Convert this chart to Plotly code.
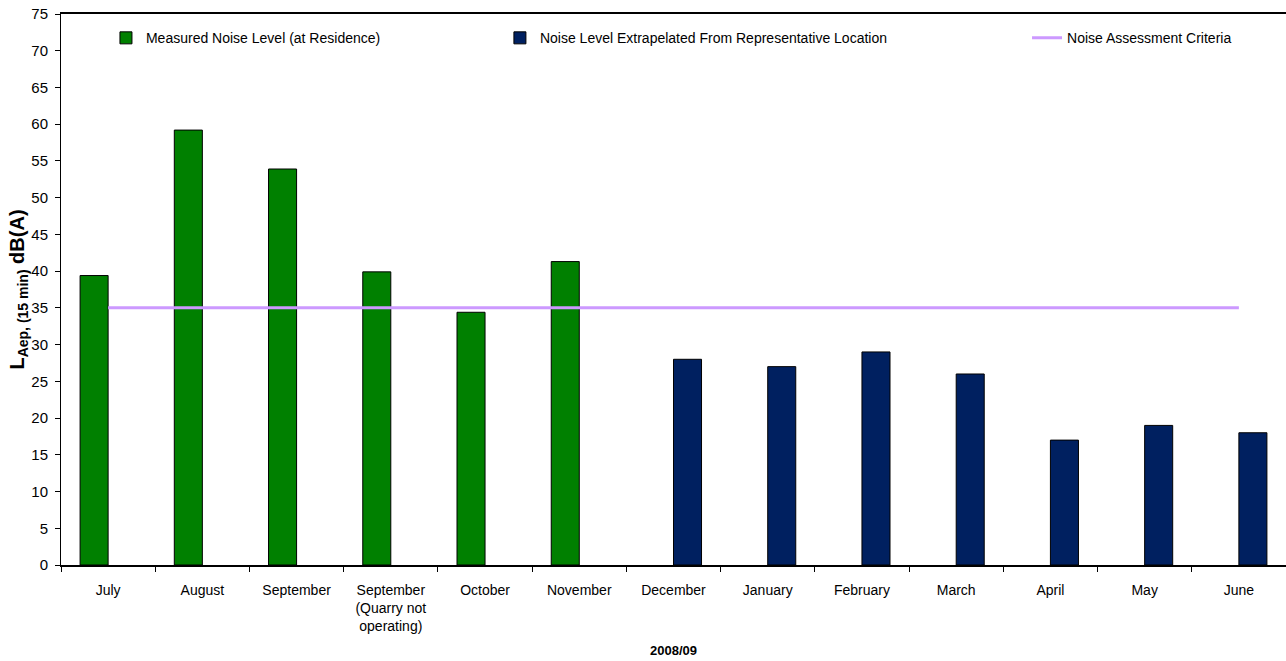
import plotly.graph_objects as go

# categories and values
months = ['July', 'August', 'September', 'September<br>(Quarry not<br>operating)',
          'October', 'November', 'December', 'January', 'February', 'March',
          'April', 'May', 'June']
measured = [39.4, 59.2, 53.9, 39.9, 34.4, 41.3, None, None, None, None, None, None, None]
extrapolated = [None, None, None, None, None, None, 28, 27, 29, 26, 17, 19, 18]
criteria = [35] * len(months)
y_ticks = [0, 5, 10, 15, 20, 25, 30, 35, 40, 45, 50, 55, 60, 65, 70, 75]

FONT = 'Liberation Sans, Arial, sans-serif'

fig = go.Figure()

fig.add_trace(go.Bar(
    x=months, y=measured,
    name='Measured Noise Level (at Residence)',
    marker=dict(color='#008000', line=dict(color='black', width=1)),
    showlegend=True,
    legend='legend'
))
fig.add_trace(go.Bar(
    x=months, y=extrapolated,
    name='Noise Level Extrapelated From Representative Location',
    marker=dict(color='#002060', line=dict(color='black', width=1)),
    showlegend=True,
    legend='legend2'
))
fig.add_trace(go.Scatter(
    x=months, y=criteria,
    mode='lines',
    name='Noise Assessment Criteria',
    line=dict(color='#CC99FF', width=3),
    showlegend=True,
    legend='legend3'
))

leg = dict(orientation='h', yanchor='middle', y=0.956, xanchor='left',
           bgcolor='rgba(0,0,0,0)', font=dict(size=14, family=FONT, color='black'))

fig.update_layout(
    width=1286, height=661,
    barmode='group',
    bargap=0.405,
    bargroupgap=0,
    showlegend=True,
    font=dict(family=FONT, size=14, color='black'),
    paper_bgcolor='white',
    plot_bgcolor='white',
    margin=dict(l=61, r=0, t=14, b=96),
    legend=dict(leg, x=0.0367),
    legend2=dict(leg, x=0.3583),
    legend3=dict(leg, x=0.7886),
    xaxis=dict(
        title=dict(text='<b>2008/09</b>', font=dict(size=13), standoff=13),
        tickson='boundaries',
        ticks='outside', ticklen=5, tickcolor='black',
        tickfont=dict(size=14),
        ticklabelstandoff=11,
        showline=True, linecolor='black', linewidth=2,
        mirror=True,
        showgrid=False, zeroline=False,
        automargin=False
    ),
    yaxis=dict(
        title=dict(text='<b>L<sub>Aep, (15 min)</sub> dB(A)</b>', font=dict(size=20), standoff=0),
        range=[0, 75],
        tickmode='array', tickvals=y_ticks,
        ticks='outside', ticklen=5, tickcolor='black',
        tickfont=dict(size=15),
        ticklabelstandoff=4,
        ticklabeloverflow='allow',
        showline=True, linecolor='black', linewidth=1,
        showgrid=False, zeroline=False,
        automargin=False
    )
)

# drop the default page margin so the figure sits at the window's corner
fig.write_html("out.html", config={'displayModeBar': False},
               post_script="document.body.style.margin = '0';")
